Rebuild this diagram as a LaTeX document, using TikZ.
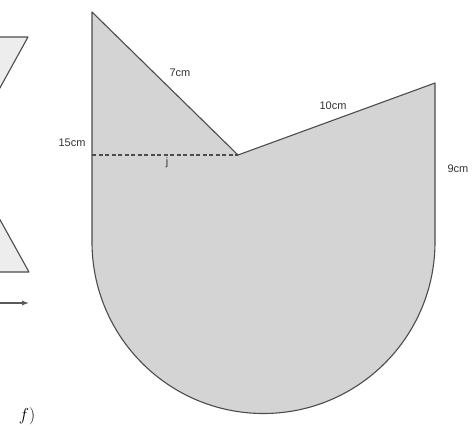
\documentclass[tikz,border=0pt]{standalone}
\usepackage{fontspec}
\setsansfont{Liberation Sans}
\usetikzlibrary{arrows.meta}

\begin{document}
\begin{tikzpicture}[
  x=1pt, y=-1pt,
  >={Latex[length=7pt, width=5pt]},
  edge/.style={draw=black!70, line width=1.1pt, line join=round},
  dim/.style={font=\sffamily\fontsize{11}{13}\selectfont, text=black!80, inner sep=1pt}
]
\useasboundingbox (0,0) rectangle (472,436);

% Cut-off figure on the left.
\begin{scope}
  \clip (0,0) rectangle (472,436);
  \path[edge, fill=black!7]
    (-80,37) -- (28,37) -- (-36.5,154) -- (29,272) -- (-80,272);
  \coordinate (tail) at (-10,303);
  \coordinate (head) at (29,303);
  \draw[->, draw=black!65, line width=1.1pt] (tail) -- (head);
\end{scope}

% Main shape.
\coordinate (tl) at (92,12);
\coordinate (apex) at (238,155);
\coordinate (tr) at (435,83);
\coordinate (br) at (435,242);
\coordinate (bl) at (92,242);
\coordinate (dl) at (92,155);

\path[edge, fill=black!17]
  (bl) -- (tl) -- (apex) -- (tr) -- (br)
  arc[start angle=0, end angle=-180, radius=171.5pt] -- cycle;
\draw[edge, dash pattern=on 4pt off 2.5pt] (dl) -- (apex);

% Measurements.
\node[dim] (l15) at (72,143) {15cm};
\node[dim] (l7) at (180,73) {7cm};
\node[dim] (l10) at (333,106) {10cm};
\node[dim] (l9) at (458,169) {9cm};
\node[dim] (lj) at (167,163) {j};

\node (lf) at (27,416) {\fontsize{18}{21}\selectfont$f)$};

\end{tikzpicture}
\end{document}
